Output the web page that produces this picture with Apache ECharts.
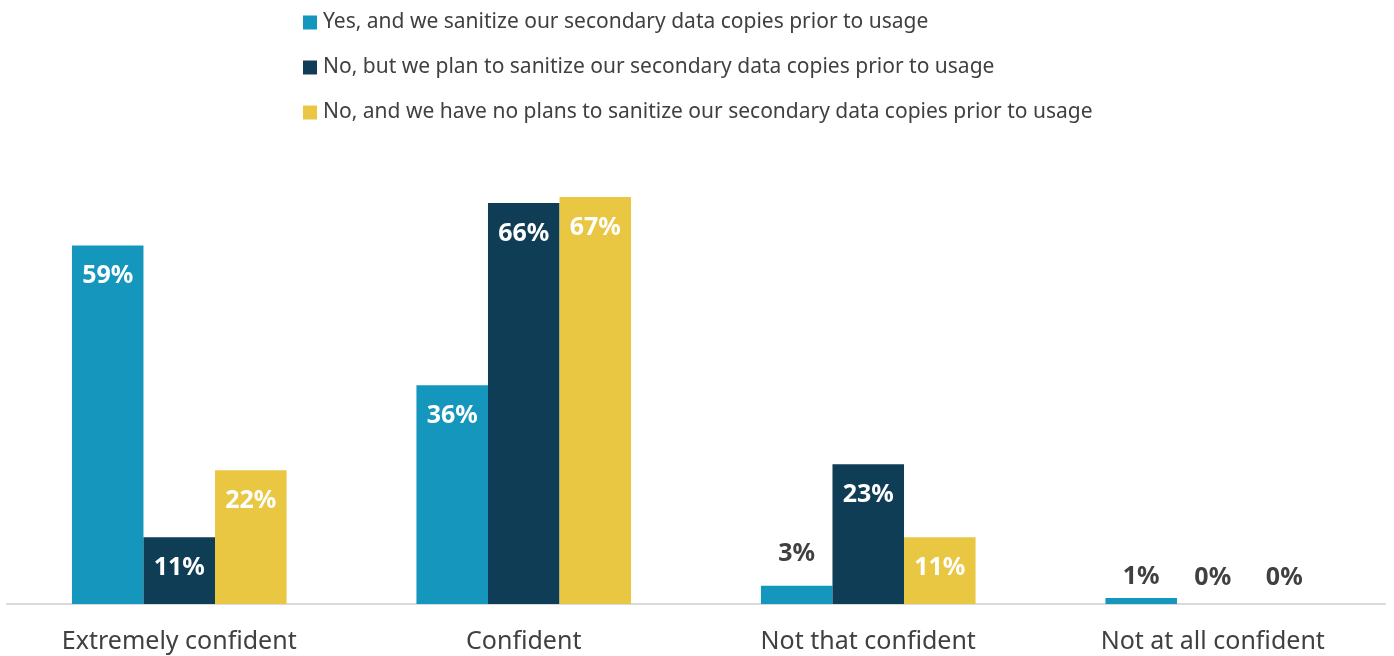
<!DOCTYPE html>
<html>
<head>
<meta charset="utf-8">
<script src="https://cdn.jsdelivr.net/npm/echarts@6/dist/echarts.min.js"></script>
<style>
html,body{margin:0;padding:0;background:#fff;}
#chart{width:1394px;height:656px;}
</style>
</head>
<body>
<div id="chart"></div>
<script>
// categories + series values (percent)
var categories = ['Extremely confident', 'Confident', 'Not that confident', 'Not at all confident'];
var seriesNames = [
  'Yes, and we sanitize our secondary data copies prior to usage',
  'No, but we plan to sanitize our secondary data copies prior to usage',
  'No, and we have no plans to sanitize our secondary data copies prior to usage'
];
var yesValues = [59, 36, 3, 1];
var planValues = [11, 66, 23, 0];
var noPlanValues = [22, 67, 11, 0];
var colors = ['#1596bd', '#0f3d55', '#e9c742'];

var textDark = '#404040';
var fontFam = '"Noto Sans", sans-serif';

// small bars get their label above in dark grey, big ones inside in white
function toItems(vals) {
  return vals.map(function (v) {
    if (v <= 3) {
      return {
        value: v,
        label: { position: 'top', color: textDark, distance: v === 3 ? 19 : (v === 0 ? 14 : 9) }
      };
    }
    return { value: v, label: { position: 'insideTop', color: '#fff', distance: 18 } };
  });
}

var allValues = [yesValues, planValues, noPlanValues];

var myChart = echarts.init(document.getElementById('chart'));
myChart.setOption({
  animation: false,
  textStyle: { fontFamily: fontFam },
  legend: {
    orient: 'vertical',
    left: 298,
    top: 7,
    itemWidth: 14,
    itemHeight: 14,
    itemGap: 24,
    icon: 'rect',
    textStyle: { fontSize: 21, color: textDark, fontFamily: fontFam, padding: [0, 0, 0, 1] },
    data: seriesNames
  },
  grid: { left: 7, right: 9, top: 197, bottom: 52, containLabel: false },
  xAxis: {
    type: 'category',
    data: categories,
    axisLine: { lineStyle: { color: '#d9d9d9', width: 2 } },
    axisTick: { show: false },
    axisLabel: { fontSize: 25, color: textDark, margin: 25, fontFamily: fontFam }
  },
  yAxis: {
    type: 'value',
    min: 0,
    max: 67,
    show: false,
    splitLine: { show: false }
  },
  series: seriesNames.map(function (name, i) {
    return {
      name: name,
      type: 'bar',
      barGap: '0%',
      barCategoryGap: '37.7%',
      itemStyle: { color: colors[i] },
      label: {
        show: true,
        fontSize: 25,
        fontWeight: 'bold',
        fontFamily: fontFam,
        formatter: '{c}%'
      },
      data: toItems(allValues[i])
    };
  })
});
</script>
</body>
</html>
